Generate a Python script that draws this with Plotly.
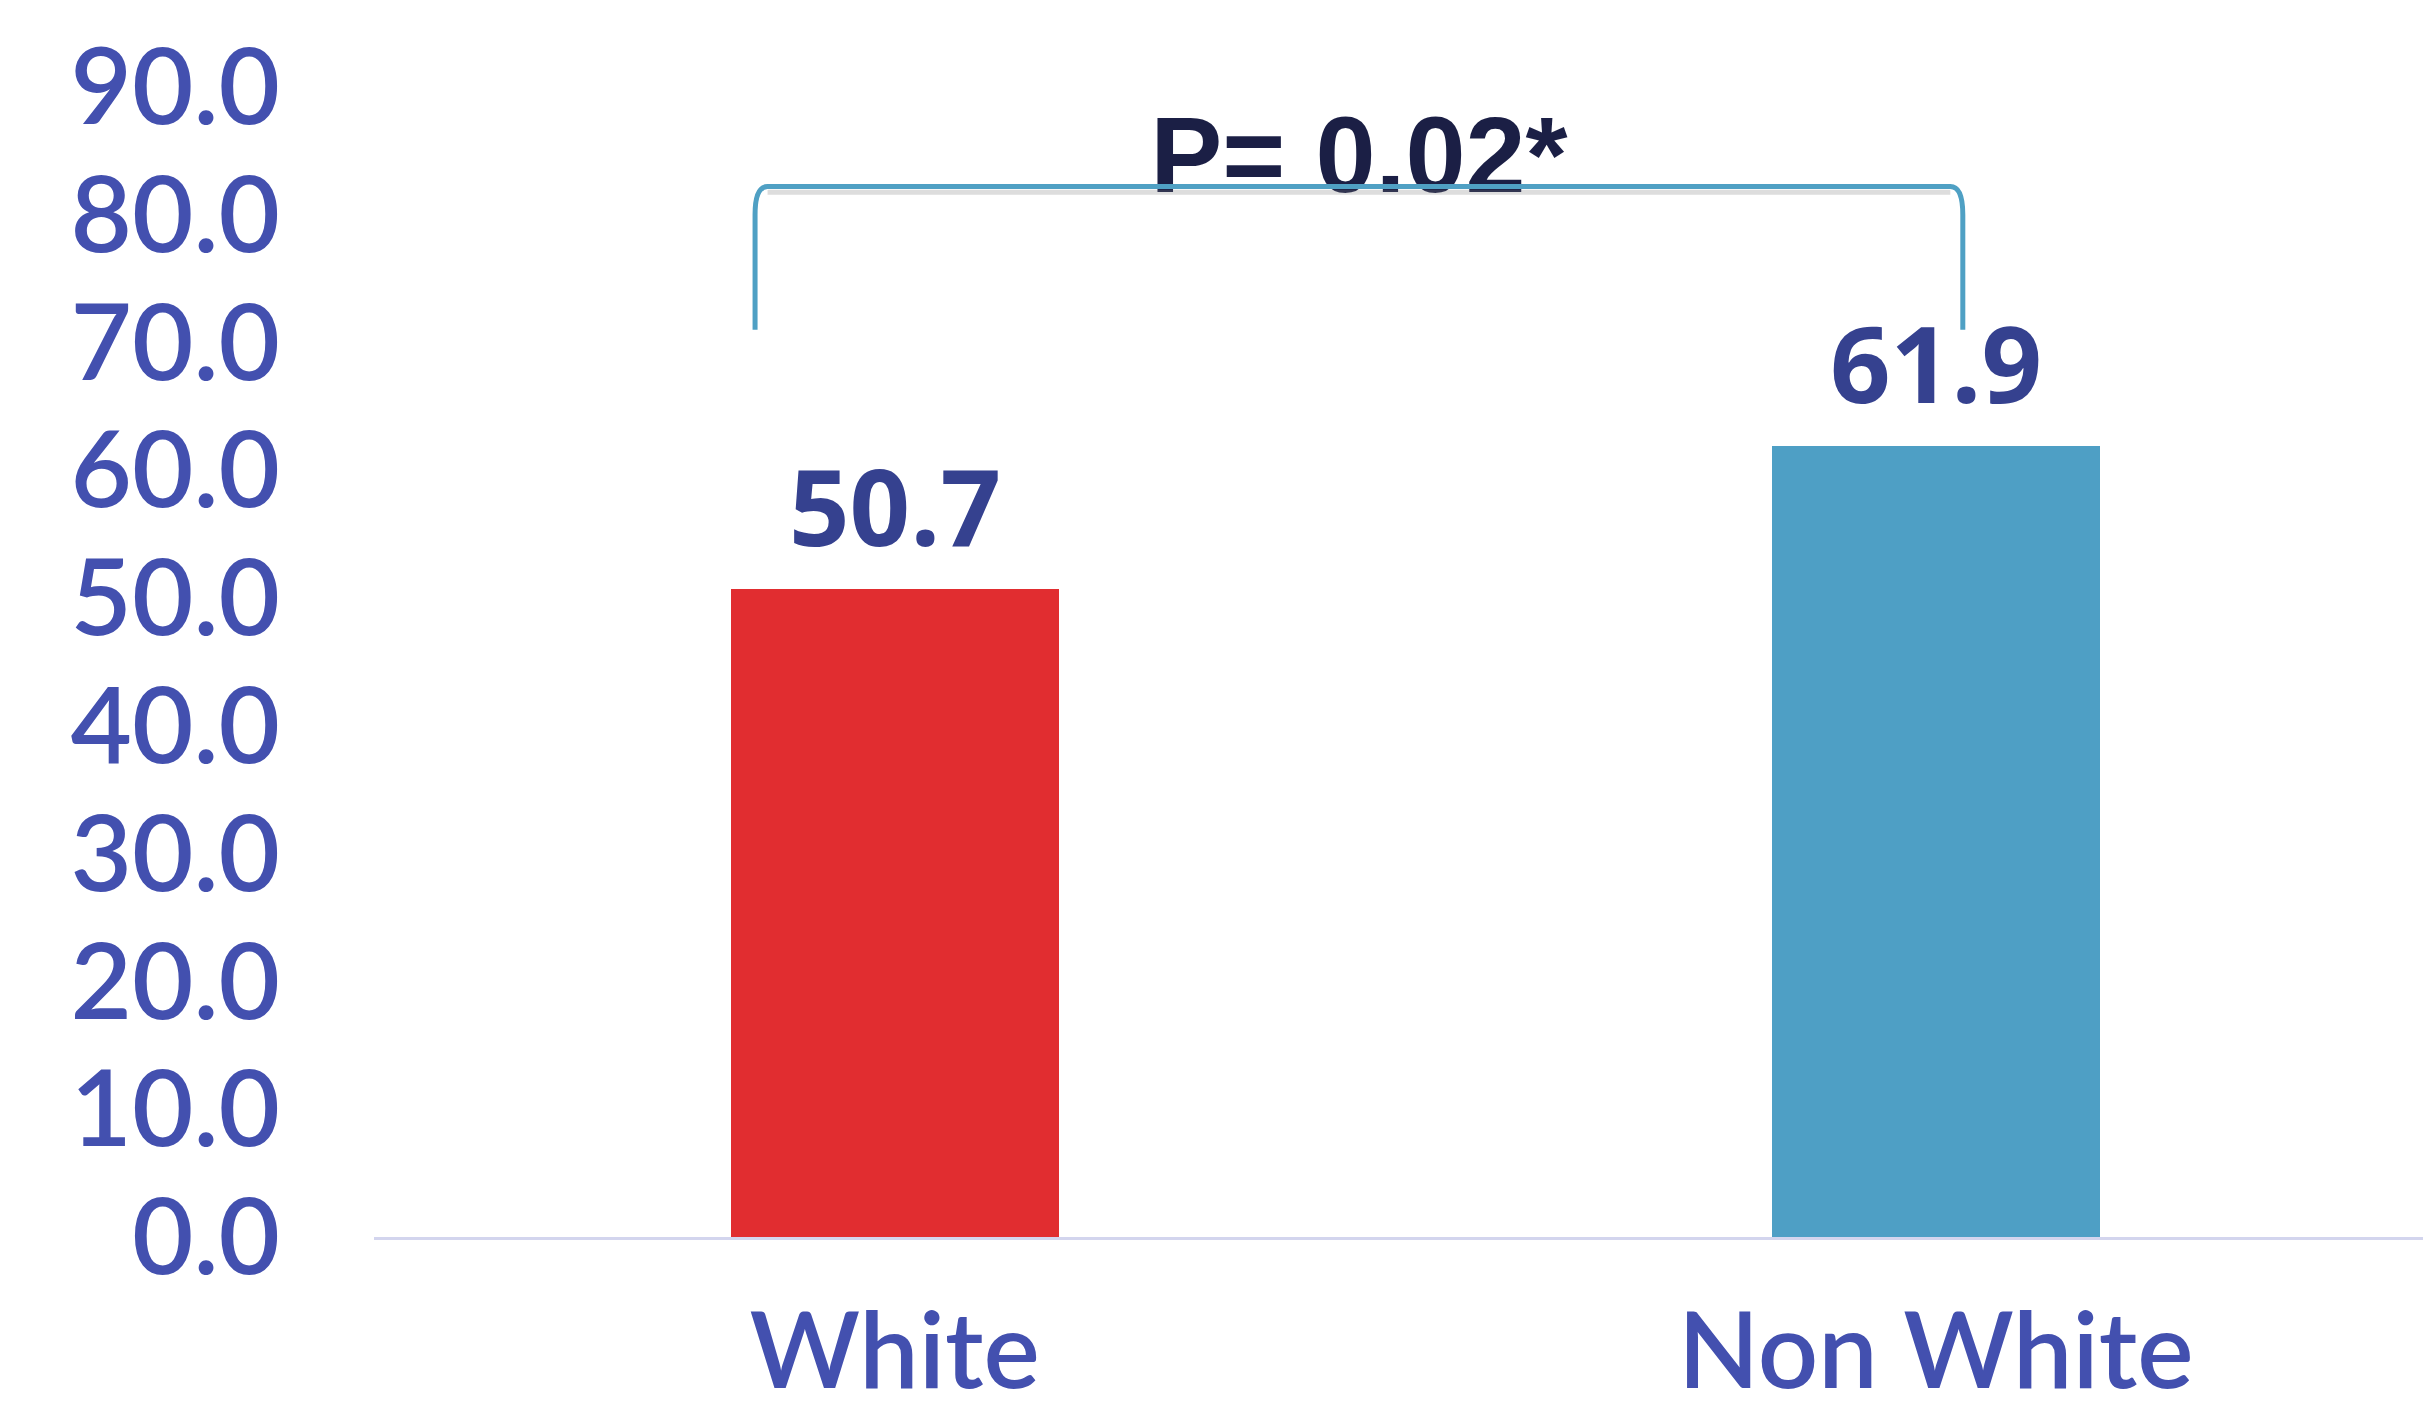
import plotly.graph_objects as go

# Bar chart data
categories = ["White", "Non White"]
values = [50.7, 61.9]
bar_colors = ["#E12D30", "#4E9FC5"]

# Significance bracket between the two groups
p_label = "P= 0.02*"
bracket_x = [-0.134, 1.026]
bracket_top = 82.2
bracket_foot = 71.0

y_ticks = [0, 10, 20, 30, 40, 50, 60, 70, 80, 90]

x_pos = list(range(len(categories)))

fig = go.Figure()
fig.add_trace(go.Bar(
    x=x_pos,
    y=values,
    width=0.315,
    marker=dict(color=bar_colors, line=dict(width=0)),
    showlegend=False,
    hoverinfo="skip",
))

# P-value label (drawn as a text trace so the bracket sits over it)
fig.add_trace(go.Scatter(
    x=[(bracket_x[0] + bracket_x[1]) / 2],
    y=[bracket_top + 1.7],
    mode="text",
    text=[p_label],
    textposition="middle center",
    textfont=dict(family="Liberation Sans", size=108, color="#1B1F45", weight="bold"),
    showlegend=False,
    hoverinfo="skip",
    cliponaxis=False,
))

# Value labels above bars
for xp, v in zip(x_pos, values):
    fig.add_annotation(
        x=xp, y=v, text=f"{v:.1f}", showarrow=False,
        yanchor="bottom", yshift=10,
        font=dict(family="Open Sans", size=106, color="#35418F", weight="bold"),
    )

# Bracket path with gently rounded shoulders
xl, xr = bracket_x
dx, dy = 0.012, 2.2
path = (
    f"M {xl},{bracket_foot} L {xl},{bracket_top - dy} "
    f"Q {xl},{bracket_top} {xl + dx},{bracket_top} "
    f"L {xr - dx},{bracket_top} "
    f"Q {xr},{bracket_top} {xr},{bracket_top - dy} "
    f"L {xr},{bracket_foot}"
)
shadow = (
    f"M {xl + dx},{bracket_top - 0.45} L {xr - dx},{bracket_top - 0.45}"
)
fig.add_shape(type="path", path=shadow, xref="x", yref="y",
              line=dict(color="rgba(120,120,120,0.25)", width=5), layer="above")
fig.add_shape(type="path", path=path, xref="x", yref="y",
              line=dict(color="#4FA0C4", width=5), layer="above")

fig.update_layout(
    width=2423,
    height=1411,
    margin=dict(l=374, r=0, t=23, b=174),
    paper_bgcolor="white",
    plot_bgcolor="white",
    bargap=0,
    xaxis=dict(
        range=[-0.5, 1.468],
        tickmode="array",
        tickvals=x_pos,
        ticktext=categories,
        showgrid=False,
        zeroline=False,
        showline=True,
        linecolor="#D3D5EE",
        linewidth=3,
        ticks="",
        automargin=False,
        ticklabelstandoff=21,
        tickfont=dict(family="Lato", size=106, color="#4350AF", weight=600),
    ),
    yaxis=dict(
        range=[0, 95],
        tickmode="array",
        tickvals=y_ticks,
        tickformat=".1f",
        showgrid=False,
        zeroline=False,
        showline=False,
        ticks="",
        automargin=False,
        ticklabelstandoff=93,
        tickfont=dict(family="Lato", size=106, color="#4350AF", weight=600),
    ),
)

fig.write_html("out.html")
